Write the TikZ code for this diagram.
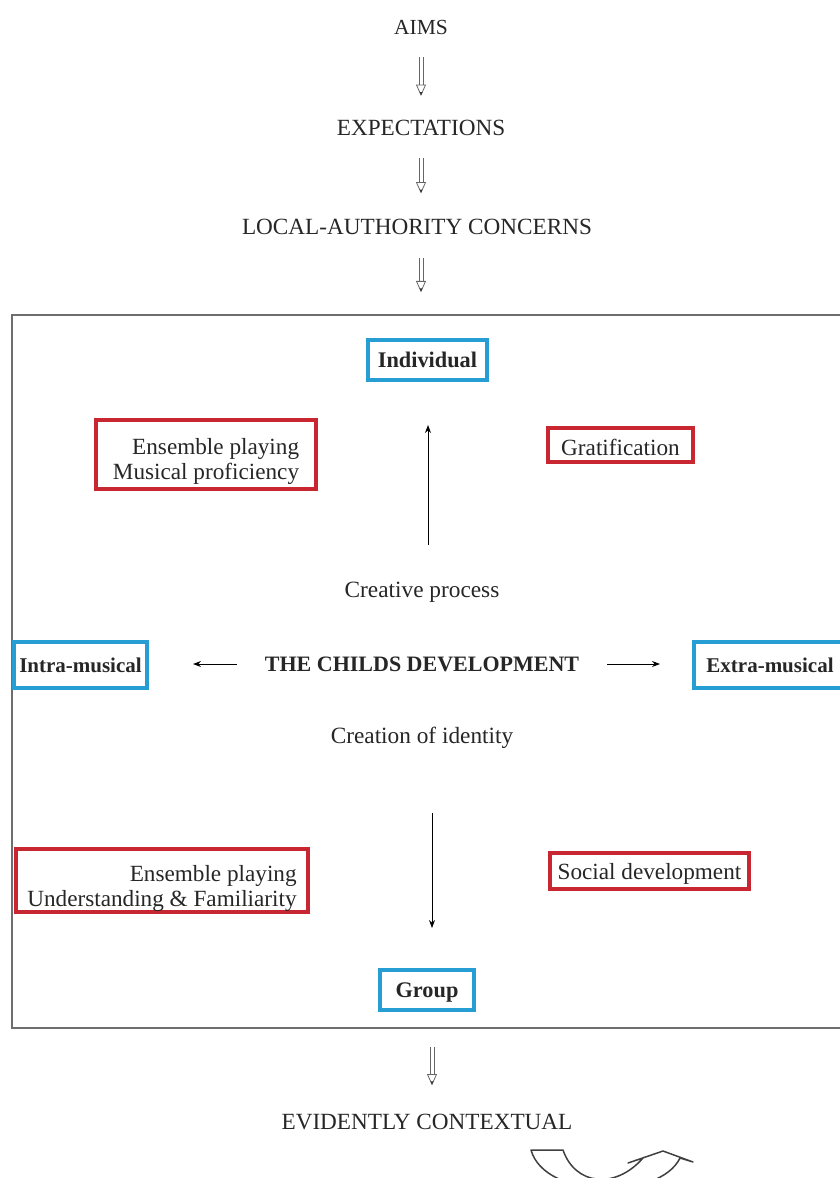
\documentclass[tikz,border=0pt]{standalone}
\usepackage{fontspec}
\setmainfont{Liberation Serif}
\usetikzlibrary{arrows.meta,calc}
\definecolor{boxblue}{RGB}{38,158,212}
\definecolor{boxred}{RGB}{200,38,48}
\definecolor{framegray}{RGB}{110,110,110}
\tikzset{
  every node/.style={text=black!85},
  capstext/.style={inner sep=0pt, font=\fontsize{23.2}{26}\selectfont},
  bodytext/.style={inner sep=0pt, font=\fontsize{23.3}{25}\selectfont},
  bluebox/.style={draw=boxblue, line width=4pt, inner sep=0pt, font=\bfseries\fontsize{22.3}{25}\selectfont},
  redbox/.style={draw=boxred, line width=4pt, inner sep=0pt, align=right, font=\fontsize{23.2}{25}\selectfont},
  dblline/.style={draw=black!60, line width=0.8pt},
  dblhead/.style={draw=black!60, line width=0.8pt, fill=white, line join=miter},
  sarrow/.style={draw=black, line width=0.9pt, -{Stealth[length=8pt,width=6pt]}},
}
\newcommand\dblarr[2]{%
  \draw[dblline] ($(#1)+(-2,0)$) -- ($(#2)+(-2,-9)$);
  \draw[dblline] ($(#1)+(2,0)$) -- ($(#2)+(2,-9)$);
  \draw[dblhead] ($(#2)+(-4.5,-10)$) -- ($(#2)+(4.5,-10)$) -- (#2) -- cycle;
  \fill[black!80] ($(#2)+(-1.5,-3)$) -- ($(#2)+(1.5,-3)$) -- (#2) -- cycle;
}
\newcommand\lowered[2]{\raisebox{-#1}[\height][\depth]{#2}}
\begin{document}
\begin{tikzpicture}[x=1pt,y=-1pt]
\useasboundingbox (0,0) rectangle (840,1178);
\clip (0,0) rectangle (840,1178);

\node[capstext, font=\fontsize{21.5}{26}\selectfont] (aims) at (421,27) {AIMS};
\node[capstext] (exp) at (421,128) {EXPECTATIONS};
\node[capstext] (lac) at (417,227) {LOCAL-AUTHORITY CONCERNS};

\node[draw=framegray, line width=1.3pt, minimum width=833pt, minimum height=713pt, inner sep=0pt] (frame) at (428.5,671.5) {};

\node[bluebox, minimum width=119pt, minimum height=40pt] (ind) at (427.5,360) {Individual};
\node[redbox, minimum width=220pt, minimum height=69pt] (ens1) at (206,454.5)
  {\lowered{7pt}{\begin{tabular}{@{}r@{}}Ensemble playing\\Musical proficiency\end{tabular}}};
\node[redbox, minimum width=145pt, minimum height=34pt] (grat) at (620.5,445) {\lowered{2pt}{Gratification}};

\node[bodytext] (cp) at (422,592) {Creative process};
\node[bodytext, font=\bfseries\fontsize{22}{25}\selectfont] (cd) at (422,664) {THE CHILDS DEVELOPMENT};
\node[bodytext] (ci) at (422,738) {Creation of identity};

\node[bluebox, font=\bfseries\fontsize{21}{25}\selectfont, minimum width=133pt, minimum height=46pt] (intra) at (80.5,665) {Intra-musical};
\node[bluebox, font=\bfseries\fontsize{21}{25}\selectfont, minimum width=152pt, minimum height=46pt] (extra) at (770,665) {Extra-musical};

\node[redbox, minimum width=292pt, minimum height=63pt] (ens2) at (162,880.5)
  {\lowered{8pt}{\begin{tabular}{@{}r@{}}Ensemble playing\\Understanding \& Familiarity\end{tabular}}};
\node[redbox, minimum width=199pt, minimum height=36pt] (soc) at (649.5,871) {\lowered{3pt}{Social development}};
\node[bluebox, minimum width=94pt, minimum height=40pt] (grp) at (427,990) {\lowered{2pt}{Group}};

\node[capstext] (ec) at (427,1122) {EVIDENTLY CONTEXTUAL};

% double arrows
\coordinate (d1s) at ($(aims.south)+(0,23)$);
\coordinate (d1e) at ($(aims.south |- exp.north)+(0,-25)$);
\coordinate (d2s) at ($(exp.south)+(0,22.5)$);
\coordinate (d2e) at ($(exp.south |- lac.north)+(0,-26.5)$);
\coordinate (d3s) at ($(aims |- lac.south)+(0,23.5)$);
\coordinate (d3e) at ($(aims |- frame.north)+(0,-23)$);
\coordinate (d4s) at ($(grp |- frame.south)+(5,18)$);
\coordinate (d4e) at ($(grp |- ec.north)+(5,-29.5)$);
\dblarr{d1s}{d1e}
\dblarr{d2s}{d2e}
\dblarr{d3s}{d3e}
\dblarr{d4s}{d4e}

% single arrows
\draw[sarrow, shorten <=37pt, shorten >=43pt] ([xshift=6pt]cp.north) -- ([xshift=6pt]cp.north |- ind.south);
\draw[sarrow, shorten <=28pt, shorten >=44pt] (cd.west) -- (cd.west -| intra.east);
\draw[sarrow, shorten <=28pt, shorten >=32pt] (cd.east) -- (cd.east -| extra.west);
\draw[sarrow, shorten <=64pt, shorten >=40pt] ([xshift=10pt]ci.south) -- ([xshift=10pt]ci.south |- grp.north);

% curved hollow arrow
\draw[black!75, line width=1.5pt, line join=round] (531,1150) -- (563,1150)
  .. controls (575,1185) and (615,1190) .. (643,1158)
  -- (628,1163) -- (663,1151) -- (693,1162) -- (680,1158)
  .. controls (660,1200) and (545,1200) .. cycle;
\end{tikzpicture}
\end{document}
